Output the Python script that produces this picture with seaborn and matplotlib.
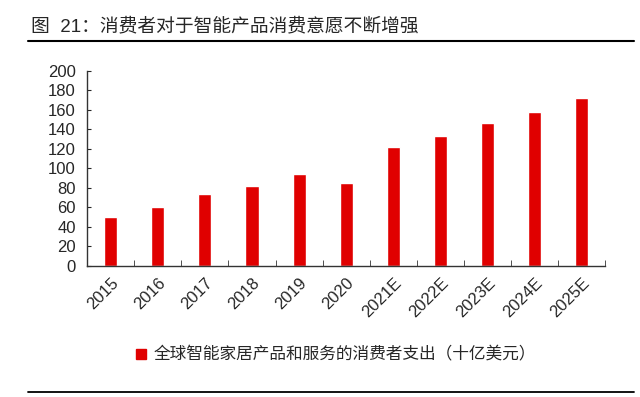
import matplotlib
matplotlib.use('Agg')
import matplotlib.pyplot as plt
import seaborn as sns
import pandas as pd
from matplotlib.lines import Line2D
from matplotlib.patches import Patch

# 数据
years = ['2015', '2016', '2017', '2018', '2019', '2020',
         '2021E', '2022E', '2023E', '2024E', '2025E']
spend = [50, 60, 73, 82, 94, 85, 122, 133, 146, 158, 172]
series_name = '全球智能家居产品和服务的消费者支出（十亿美元）'
title = '图  21：消费者对于智能产品消费意愿不断增强'

df = pd.DataFrame({'year': years, 'spend': spend})

sns.set_style('white')
plt.rcParams['font.family'] = ['Liberation Sans', 'Noto Sans CJK SC', 'DejaVu Sans']

fig = plt.figure(figsize=(6.4, 3.97), dpi=100)
ax = fig.add_axes([0.136, 0.331, 0.81, 0.491])

red = '#E00000'
sns.barplot(data=df, x='year', y='spend', color=red, width=0.28,
            saturation=1, ax=ax)

ax.set_ylim(0, 200)
ax.set_xlim(-0.5, len(years) - 0.5)
ax.set_yticks(range(0, 201, 20))
ax.set_xlabel('')
ax.set_ylabel('')
for s in ['top', 'right']:
    ax.spines[s].set_visible(False)
for s in ['left', 'bottom']:
    ax.spines[s].set_color('#333333')
    ax.spines[s].set_linewidth(1.0)

ax.tick_params(axis='y', direction='in', length=3, labelsize=12, pad=8, left=True)
# x轴刻度在类别之间
ax.set_xticks([i for i in range(len(years))])
ax.set_xticklabels(years, rotation=45, ha='right', rotation_mode='anchor', fontsize=12)
ax.tick_params(axis='x', length=0, pad=7)
ax.set_xticks([i + 0.5 for i in range(len(years))], minor=True)
ax.tick_params(axis='x', which='minor', direction='in', length=4, color='#333333', bottom=True)

handle = Patch(facecolor=red, edgecolor=red)
fig.legend([handle], [series_name], loc='center', bbox_to_anchor=(0.525, 0.105),
           frameon=False, handlelength=0.6, handleheight=0.6,
           handletextpad=0.5, prop={'family': ['Noto Sans CJK SC', 'DejaVu Sans'], 'size': 12})

fig.text(31 / 640, 1 - 26 / 397, title, fontsize=13.5, va='center', ha='left',
         family=['Liberation Sans', 'Noto Sans CJK SC', 'DejaVu Sans'])
fig.add_artist(Line2D([28 / 640, 634 / 640], [1 - 41 / 397] * 2, color='black', lw=1.5))
fig.add_artist(Line2D([28 / 640, 634 / 640], [1 - 392 / 397] * 2, color='black', lw=1.3))

fig.savefig('out.png', dpi=100)
